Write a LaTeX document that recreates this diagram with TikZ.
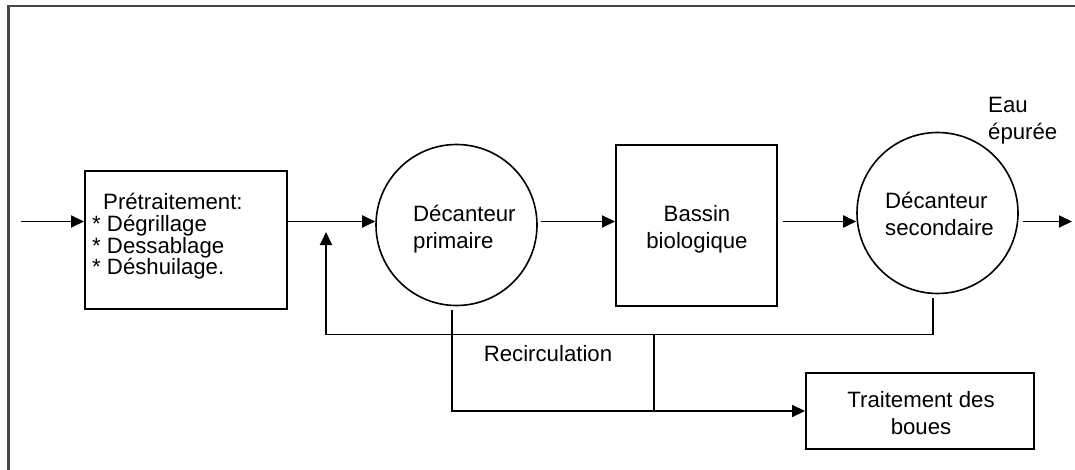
\documentclass[tikz,border=0pt]{standalone}
\usepackage{fontspec}
\setmainfont{Liberation Sans}
\usetikzlibrary{arrows.meta}
\begin{document}
\begin{tikzpicture}[x=1pt,y=-1pt,
  every node/.style={font=\fontsize{22.2}{27}\selectfont},
  flow/.style={line width=1.9pt,-{Triangle[length=13pt,width=12pt]}},
  pipe/.style={line width=1.9pt},
  box/.style={draw,line width=2pt,inner sep=0pt},
  tank/.style={draw,circle,line width=1.6pt,inner sep=0pt,minimum size=161pt},
  txt/.style={inner sep=0pt}]
\useasboundingbox (0,0) rectangle (1075,470);
\clip (0,0) rectangle (1075,470);
\draw[line width=2.2pt,black!72] (8.5,6) rectangle (1095,495);

% boxes and tanks
\node[box,minimum width=202pt,minimum height=138pt] (pre) at (186,240) {};
\node[txt,anchor=west,align=left,font=\fontsize{22.2}{21.7}\selectfont] (pretxt) at (92,236.5)
  {\hspace*{11pt}Prétraitement:\\* Dégrillage\\* Dessablage\\* Déshuilage.};
\node[tank] (c1) at (456.5,225) {};
\node[txt,anchor=west,align=left] (c1txt) at (413,229.3) {Décanteur\\primaire};
\node[box,minimum width=161pt,minimum height=161pt] (bassin) at (696.5,225.5) {};
\node[txt,align=center] (bassintxt) at (697,229.3) {Bassin\\biologique};
\node[tank] (c2) at (937.5,213) {};
\node[txt,anchor=west,align=left] (c2txt) at (885,213.5) {Décanteur\\secondaire};
\node[box,minimum width=228pt,minimum height=76pt] (boue) at (920,411) {};
\node[txt,align=center] (bouetxt) at (921,412.7) {Traitement des\\boues};
\node[txt,anchor=west,align=left] (eau) at (988,120.3) {Eau\\épurée};
\node[txt] (reclbl) at (548,353.7) {Recirculation};

% coordinates
\coordinate (in) at (21,221.5);
\coordinate (out) at (1072,221.5);
\coordinate (mix) at (326,221.5);
\coordinate (rec) at (654,334.5);

% main flow
\draw[flow] (in) -- (pre.west |- in);
\draw[flow] (pre.east |- in) -- (c1.west |- in);
\draw[flow] ([xshift=3pt]c1.east |- in) -- (bassin.west |- in);
\draw[flow] ([xshift=5pt]bassin.east |- in) -- (c2.west |- in);
\draw[flow] ([xshift=4pt]c2.east |- in) -- (out);

% recirculation and sludge
\draw[flow] ([xshift=-4.5pt,yshift=-4pt]c2.south) |- (mix |- rec) -- ([yshift=-10.5pt]mix);
\draw[flow] ([xshift=-4.5pt,yshift=-4pt]c1.south) |- (boue.west);
\draw[pipe] (rec) -- (rec |- boue.west);
\end{tikzpicture}
\end{document}
